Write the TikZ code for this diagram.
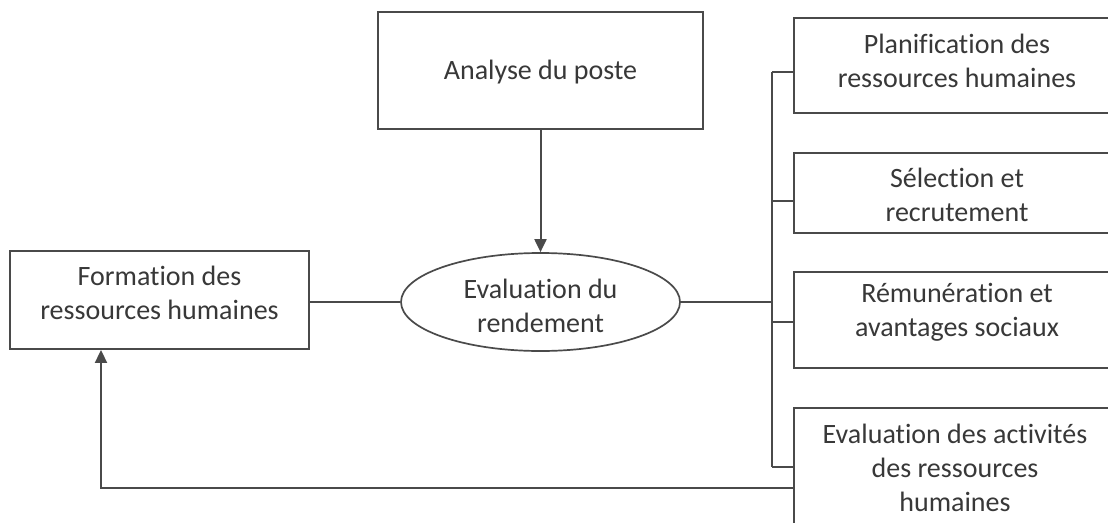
\documentclass[tikz,border=0pt]{standalone}
\usepackage{fontspec}
\setmainfont{Carlito}[Ligatures={NoCommon}]
\usetikzlibrary{arrows.meta,shapes.geometric}
\definecolor{ink}{HTML}{4A4A4A}
\definecolor{txt}{HTML}{383838}
\tikzset{
  box/.style={draw=ink, line width=1.9pt, fill=white, inner sep=0pt},
  oval/.style={draw=ink, line width=1.7pt, ellipse, fill=white, inner sep=0pt},
  label/.style={text=txt, align=center, font=\fontsize{28}{34}\selectfont, inner sep=0pt},
  link/.style={draw=ink, line width=2pt},
  tip/.style={-{Triangle[length=13pt,width=12pt]}}
}
\begin{document}
\begin{tikzpicture}[x=1pt,y=-1pt]
\useasboundingbox (0,0) rectangle (1108,522);
\clip (0,0) rectangle (1108,522);
% boxes
\node[box, minimum width=325, minimum height=117] (analyse) at (540.5,70.5) {};
\node[box, minimum width=299, minimum height=98] (formation) at (159.5,300) {};
\node[oval, minimum width=279, minimum height=98] (rendement) at (540.5,302) {};
\node[box, minimum width=326, minimum height=95] (plan) at (957,65.5) {};
\node[box, minimum width=326, minimum height=80] (select) at (957,193) {};
\node[box, minimum width=326, minimum height=96] (remun) at (957,320) {};
\node[box, minimum width=326, minimum height=122] (evalact) at (957,469) {};
% texts
\node[label] (tA) at (540.5,72) {Analyse du poste};
\node[label] (tF) at (159.5,293) {Formation des\\ressources humaines};
\node[label] (tR) at (540.5,306) {Evaluation du\\rendement};
\node[label] (tP) at (957,61) {Planification des\\ressources humaines};
\node[label] (tS) at (957,195) {Sélection et\\recrutement};
\node[label] (tM) at (957,312) {Rémunération et\\avantages sociaux};
\node[label] (tE) at (955,468) {Evaluation des activités\\des ressources\\humaines};
% bus on the right
\coordinate (b1) at (772,72);
\coordinate (b2) at (772,201);
\coordinate (b3) at (772,322);
\coordinate (b4) at (772,467);
\coordinate (fb) at (101,488);
\draw[link] (b1) -- (b4);
\draw[link] (b1) -- (b1 -| plan.west);
\draw[link] (b2) -- (b2 -| select.west);
\draw[link] (b3) -- (b3 -| remun.west);
\draw[link] (b4) -- (b4 -| evalact.west);
% connectors
\draw[link, tip] (analyse.south) -- (rendement.north);
\draw[link] (rendement.west) -- (rendement.west -| formation.east);
\draw[link] (rendement.east) -- (rendement.east -| b1);
\draw[link, tip] (fb -| evalact.west) -- (fb) -- (fb |- formation.south);
\end{tikzpicture}
\end{document}
